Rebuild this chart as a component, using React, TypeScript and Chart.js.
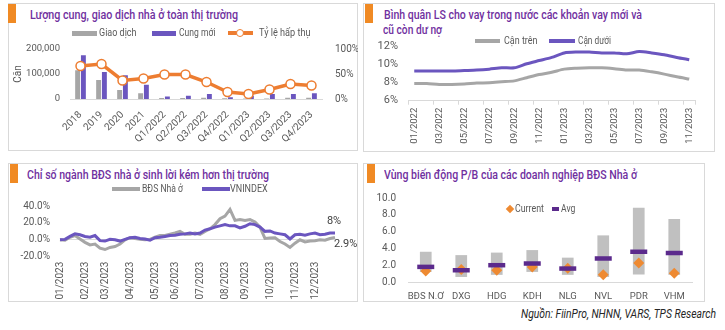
import React, { useEffect, useLayoutEffect, useRef } from "react";
import { Chart, registerables } from "chart.js";

Chart.register(...registerables);

const FONT = "Roboto, 'Noto Sans', sans-serif";
const TITLE = "#7030a0";
const ORANGE = "#ed7d31";
const DIAMOND = "#ee8a32";
const GREY = "#a6a6a6";
const BARGREY = "#c0c0c0";
const PURPLE = "#6b56bf";
const DARKPURPLE = "#5b2a8c";
const TXT = "#595959";
const AXIS = "#d9d9d9";

// ---------- Panel 1: supply / transactions ----------
const supplyPeriods = ["2018", "2019", "2020", "2021", "Q1/2022", "Q2/2022", "Q3/2022", "Q4/2022", "Q1/2023", "Q2/2023", "Q3/2023", "Q4/2023"];
const transactions = [115000, 76000, 36000, 23000, 4000, 4000, 5000, 3000, 2000, 2000, 5000, 5000];
const newSupply = [175000, 108000, 95000, 57000, 10000, 13000, 20000, 7000, 13000, 20000, 20000, 23000];
const absorptionRate = [66, 70, 37, 41, 49, 49, 34, 14, 10, 19, 30, 27];

// ---------- Panel 2: lending rates ----------
const rateMonths = ["01/2022", "02/2022", "03/2022", "04/2022", "05/2022", "06/2022", "07/2022", "08/2022", "09/2022", "10/2022", "11/2022", "12/2022", "01/2023", "02/2023", "03/2023", "04/2023", "05/2023", "06/2023", "07/2023", "08/2023", "09/2023", "10/2023", "11/2023"];
const upperBound = [7.9, 7.9, 7.8, 7.8, 7.85, 7.95, 8.0, 8.1, 8.2, 8.55, 8.9, 9.15, 9.5, 9.6, 9.65, 9.65, 9.55, 9.4, 9.4, 9.2, 8.95, 8.65, 8.4];
const lowerBound = [9.3, 9.3, 9.3, 9.3, 9.35, 9.4, 9.5, 9.65, 9.65, 10.1, 10.45, 10.8, 11.3, 11.4, 11.4, 11.3, 11.3, 11.2, 11.45, 11.3, 11.1, 10.8, 10.55];

// ---------- Panel 3: index performance (weekly) ----------
const perfMonths = ["01/2023", "02/2023", "03/2023", "04/2023", "05/2023", "06/2023", "07/2023", "08/2023", "09/2023", "10/2023", "11/2023", "12/2023"];
const weeksPerMonth = [5, 4, 5, 5, 4, 5, 5, 4, 5, 5, 4, 5];
const residentialIdx = [0, -0.5, 3, 5, 1, -3, -6, -5, -10, -11.5, -9, -8, -5, 0, 2.5, 1.5, 0.5, 0, 0.5, 3, 5, 5, 6.5, 8, 10, 6.5, 6.5, 8, 6.5, 10, 13, 18, 25, 28, 36, 23, 24, 23, 24, 21, 15, 1.5, 2, 2.5, -2, -5, -9, -4, 0, -2.5, -1.5, -1, 0, -0.5, 1.5, 2.9];
const vnIndex = [0, 0.5, 4, 7, 6, 4, 3, 5, -1, -1.5, 0.5, 0, -1.5, 0.5, 2.5, 3, 1.5, 1, -0.5, 2.5, 3, 4, 5, 5.5, 6.5, 7, 8, 7, 8, 11.5, 13, 15, 16.5, 18, 16.5, 16.5, 14, 16, 19, 18, 15, 10, 10.5, 8, 7, 6, 1, 6, 6.5, 5.5, 7, 8, 6, 6.5, 8, 8];

// ---------- Panel 4: P/B ranges ----------
const pbTickers = ["BĐS N.Ơ", "DXG", "HDG", "KDH", "NLG", "NVL", "PDR", "VHM"];
const pbMin = [1.2, 0.6, 0.85, 1.2, 0.85, 0.6, 0.9, 0.85];
const pbMax = [3.6, 3.2, 3.5, 3.8, 2.9, 5.55, 8.85, 7.5];
const pbAvg = [1.8, 1.4, 2.0, 2.2, 1.6, 2.8, 3.6, 3.45];
const pbCurrent = [1.3, 1.5, 1.4, 1.8, 1.65, 0.85, 2.25, 1.05];

const tickFont = (size: number) => ({ family: FONT, size });
const NOGRID = { display: false, drawTicks: false };

function makeSupplyConfig(): any {
  return {
    type: "bar",
    data: {
      labels: supplyPeriods,
      datasets: [
        {
          type: "line",
          label: "Tỷ lệ hấp thụ",
          data: absorptionRate,
          yAxisID: "y1",
          borderColor: ORANGE,
          borderWidth: 3.5,
          pointRadius: 4.5,
          pointBackgroundColor: "#ffffff",
          pointBorderColor: ORANGE,
          pointBorderWidth: 1.5,
          tension: 0,
          order: 0,
        },
        { label: "Giao dịch", data: transactions, backgroundColor: GREY, yAxisID: "y", order: 1, categoryPercentage: 0.55, barPercentage: 0.85 },
        { label: "Cung mới", data: newSupply, backgroundColor: PURPLE, yAxisID: "y", order: 1, categoryPercentage: 0.55, barPercentage: 0.85 },
      ],
    },
    options: {
      animation: false,
      responsive: false,
      layout: { padding: { top: 8, left: 0, right: 0, bottom: 0 } },
      plugins: { legend: { display: false }, tooltip: { enabled: false } },
      scales: {
        x: {
          grid: NOGRID,
          border: { color: AXIS },
          ticks: { minRotation: 45, maxRotation: 45, autoSkip: false, font: tickFont(10), color: TXT, padding: 10 },
          afterFit: (s: any) => { s.height = 51; },
        },
        y: {
          position: "left",
          min: 0,
          max: 200000,
          grid: NOGRID,
          border: { display: false },
          ticks: { stepSize: 50000, padding: 10, font: tickFont(9.5), color: TXT, callback: (v: number) => v.toLocaleString("en-US") },
          title: { display: true, text: "Căn", font: tickFont(10), color: TXT, padding: { top: 4, bottom: 0 } },
          afterFit: (s: any) => { s.width = 62; },
        },
        y1: {
          position: "right",
          min: 0,
          max: 100,
          grid: NOGRID,
          border: { display: false },
          ticks: { stepSize: 50, padding: 13, font: tickFont(10), color: TXT, callback: (v: number) => v + "%" },
          afterFit: (s: any) => { s.width = 36; },
        },
      },
    },
  };
}

function makeRateConfig(): any {
  return {
    type: "line",
    data: {
      labels: rateMonths,
      datasets: [
        { label: "Cận trên", data: upperBound, borderColor: GREY, borderWidth: 3, pointRadius: 0, tension: 0.25 },
        { label: "Cận dưới", data: lowerBound, borderColor: PURPLE, borderWidth: 3, pointRadius: 0, tension: 0.25 },
      ],
    },
    options: {
      animation: false,
      responsive: false,
      layout: { padding: { top: 15, right: 19.5, left: 0, bottom: 0 } },
      plugins: { legend: { display: false }, tooltip: { enabled: false } },
      scales: {
        x: {
          offset: true,
          grid: {
            offset: true,
            drawOnChartArea: false,
            drawTicks: true,
            tickLength: 4,
            tickColor: (ctx: any) => (ctx.index === undefined || ctx.index % 2 === 0 ? AXIS : "rgba(0,0,0,0)"),
          },
          border: { color: AXIS },
          ticks: {
            autoSkip: false,
            minRotation: 90,
            maxRotation: 90,
            padding: 3,
            font: tickFont(9.5),
            color: TXT,
            callback: (_v: any, i: number) => (i % 2 === 0 ? rateMonths[i] : ""),
          },
          afterFit: (s: any) => { s.height = 51.3; },
        },
        y: {
          min: 6,
          max: 12,
          grid: NOGRID,
          border: { display: false },
          ticks: { stepSize: 2, padding: 10, font: tickFont(11), color: TXT, callback: (v: number) => v + "%" },
          afterFit: (s: any) => { s.width = 45; },
        },
      },
    },
  };
}

const endLabelPlugin = {
  id: "endLabels",
  afterDatasetsDraw(chart: any) {
    const ctx = chart.ctx;
    chart.data.datasets.forEach((ds: any, i: number) => {
      const meta = chart.getDatasetMeta(i);
      const pts = meta.data;
      if (!pts.length || !ds.endLabel) return;
      const last = pts[pts.length - 1];
      const value = ds.data[ds.data.length - 1];
      ctx.save();
      ctx.font = `11px ${FONT}`;
      ctx.fillStyle = "#404040";
      ctx.textAlign = ds.endLabel.align;
      ctx.textBaseline = "middle";
      ctx.fillText(`${value}%`, last.x + ds.endLabel.dx, last.y + ds.endLabel.dy);
      ctx.restore();
    });
  },
};

function makePerfConfig(): any {
  const labels: string[] = [];
  perfMonths.forEach((m, i) => {
    for (let w = 0; w < weeksPerMonth[i]; w++) labels.push(w === 0 ? m : `${m}#${w + 1}`);
  });
  return {
    type: "line",
    data: {
      labels,
      datasets: [
        { label: "BĐS Nhà ở", data: residentialIdx, borderColor: GREY, borderWidth: 3, pointRadius: 0, tension: 0, order: 1, endLabel: { align: "left", dx: -1, dy: 7 } },
        { label: "VNINDEX", data: vnIndex, borderColor: PURPLE, borderWidth: 3, pointRadius: 0, tension: 0, order: 0, endLabel: { align: "center", dx: -1, dy: -11.5 } },
      ],
    },
    plugins: [endLabelPlugin],
    options: {
      animation: false,
      responsive: false,
      layout: { padding: { top: 6, right: 23, left: 0, bottom: 0 } },
      plugins: { legend: { display: false }, tooltip: { enabled: false } },
      scales: {
        x: {
          grid: NOGRID,
          border: { display: false },
          ticks: {
            autoSkip: false,
            minRotation: 90,
            maxRotation: 90,
            padding: 5,
            font: tickFont(10),
            color: TXT,
            callback: (_v: any, i: number) => (labels[i].includes("#") ? "" : labels[i]),
          },
          afterFit: (s: any) => { s.height = 46.3; },
        },
        y: {
          min: -20,
          max: 40,
          grid: { drawTicks: false, color: (ctx: any) => (ctx.tick && ctx.tick.value === 0 ? AXIS : "rgba(0,0,0,0)") },
          border: { display: false },
          ticks: { stepSize: 20, padding: 10, font: tickFont(10), color: TXT, callback: (v: number) => v.toFixed(1) + "%" },
          afterFit: (s: any) => { s.width = 52; },
        },
      },
    },
  };
}

function makePbConfig(): any {
  return {
    type: "bar",
    data: {
      labels: pbTickers,
      datasets: [
        { type: "line", label: "Avg", data: pbAvg, showLine: false, pointStyle: "line", pointRadius: 8.5, pointBorderWidth: 4.5, borderColor: DARKPURPLE, pointBorderColor: DARKPURPLE, order: 0 },
        { type: "line", label: "Current", data: pbCurrent, showLine: false, pointStyle: "rectRot", pointRadius: 5.5, pointBorderWidth: 0, pointBackgroundColor: DIAMOND, pointBorderColor: DIAMOND, order: 1 },
        { label: "Range", data: pbMin.map((lo, i) => [lo, pbMax[i]]), backgroundColor: BARGREY, categoryPercentage: 1, barPercentage: 0.33, order: 2 },
      ],
    },
    options: {
      animation: false,
      responsive: false,
      layout: { padding: { top: 8, right: 7, left: 0, bottom: 0 } },
      plugins: { legend: { display: false }, tooltip: { enabled: false } },
      scales: {
        x: {
          grid: NOGRID,
          border: { color: AXIS },
          ticks: { padding: 9, font: tickFont(9.5), color: TXT, autoSkip: false, maxRotation: 0 },
          afterFit: (s: any) => { s.height = 22; },
        },
        y: {
          min: 0,
          max: 10,
          grid: NOGRID,
          border: { display: false },
          ticks: { stepSize: 2, padding: 12, font: tickFont(10), color: TXT, callback: (v: number) => v.toFixed(1) },
          afterFit: (s: any) => { s.width = 45; },
        },
      },
    },
  };
}

function ChartBox({ make, left, top, width, height }: { make: () => any; left: number; top: number; width: number; height: number }) {
  const ref = useRef<HTMLCanvasElement>(null);
  useEffect(() => {
    const chart = new Chart(ref.current as HTMLCanvasElement, make());
    return () => chart.destroy();
  }, []);
  return <canvas ref={ref} width={width} height={height} style={{ position: "absolute", left, top, width, height }} />;
}

// Text squeezed horizontally to the width it occupies in the reference (narrow original typeface)
function FitText({ left, top, width, text, size, color, italic, weight }: { left: number; top: number; width: number; text: string; size: number; color: string; italic?: boolean; weight?: number }) {
  const ref = useRef<HTMLSpanElement>(null);
  useLayoutEffect(() => {
    const el = ref.current;
    if (!el) return;
    el.style.transform = "none";
    const w = el.getBoundingClientRect().width;
    if (w > 0) el.style.transform = `scaleX(${width / w})`;
  }, []);
  return (
    <span
      ref={ref}
      style={{
        position: "absolute",
        left,
        top,
        display: "inline-block",
        transformOrigin: "left center",
        whiteSpace: "nowrap",
        fontFamily: FONT,
        fontSize: size,
        lineHeight: `${Math.round(size * 1.25)}px`,
        color,
        fontStyle: italic ? "italic" : "normal",
        fontWeight: weight || 400,
      }}
    >
      {text}
    </span>
  );
}

type Item = { kind: "box" | "line" | "lineDot" | "diamond" | "dash"; x: number; w: number; color: string; label: string; textX: number; textW: number };

function Legend({ y, items }: { y: number; items: Item[] }) {
  return (
    <>
      {items.map((it) => {
        let sw: React.ReactNode = null;
        if (it.kind === "box") sw = <div style={{ position: "absolute", left: it.x, top: y - 2.5, width: it.w, height: 5, background: it.color }} />;
        if (it.kind === "line" || it.kind === "dash") sw = <div style={{ position: "absolute", left: it.x, top: y - 1.75, width: it.w, height: 3.5, background: it.color }} />;
        if (it.kind === "lineDot")
          sw = (
            <>
              <div style={{ position: "absolute", left: it.x, top: y - 1.75, width: it.w, height: 3.5, background: it.color }} />
              <div style={{ position: "absolute", left: it.x + it.w / 2 - 4.5, top: y - 4.5, width: 6, height: 6, borderRadius: "50%", border: `1.5px solid ${it.color}`, background: "#fff" }} />
            </>
          );
        if (it.kind === "diamond")
          sw = <div style={{ position: "absolute", left: it.x - 3, top: y - 3, width: 6, height: 6, background: it.color, transform: "rotate(45deg)" }} />;
        return (
          <React.Fragment key={it.label}>
            {sw}
            <FitText left={it.textX} top={y - 7} width={it.textW} text={it.label} size={11} color={TXT} />
          </React.Fragment>
        );
      })}
    </>
  );
}

function Panel({ left, top, width, height, accentLeft }: any) {
  return (
    <>
      <div style={{ position: "absolute", left, top, width, height, border: `1px solid ${AXIS}`, boxSizing: "border-box", background: "#fff" }} />
      <div style={{ position: "absolute", left: accentLeft, top: top + 1, width: 8, height: 19, background: "#f08a24" }} />
    </>
  );
}

export default function App() {
  return (
    <div style={{ position: "absolute", left: 0, top: 0, width: 725, height: 330, background: "#fff", overflow: "hidden", fontFamily: FONT }}>
      <Panel left={8} top={3} width={350} height={148} accentLeft={8} />
      <Panel left={363} top={3} width={352} height={149} accentLeft={365} />
      <Panel left={8} top={163} width={350} height={139} accentLeft={10} />
      <Panel left={363} top={163} width={342} height={139} accentLeft={367} />

      <FitText left={30} top={7} width={208} text="Lượng cung, giao dịch nhà ở toàn thị trường" size={12.5} color={TITLE} weight={500} />
      <FitText left={384} top={7} width={258} text="Bình quân LS cho vay trong nước các khoản vay mới và" size={12.5} color={TITLE} weight={500} />
      <FitText left={383} top={22} width={59} text="cũ còn dư nợ" size={12.5} color={TITLE} weight={500} />
      <FitText left={27} top={167} width={242} text="Chỉ số ngành BĐS nhà ở sinh lời kém hơn thị trường" size={12.5} color={TITLE} weight={500} />
      <FitText left={384} top={167} width={253} text="Vùng biến động P/B của các doanh nghiệp BĐS Nhà ở" size={12.5} color={TITLE} weight={500} />

      <ChartBox make={makeSupplyConfig} left={8} top={30} width={350} height={120} />
      <ChartBox make={makeRateConfig} left={363} top={30} width={352} height={122} />
      <ChartBox make={makePerfConfig} left={8} top={190} width={350} height={113} />
      <ChartBox make={makePbConfig} left={363} top={180} width={342} height={124} />

      <Legend
        y={33}
        items={[
          { kind: "box", x: 72, w: 25, color: GREY, label: "Giao dịch", textX: 98.5, textW: 37.5 },
          { kind: "box", x: 152, w: 24, color: PURPLE, label: "Cung mới", textX: 178.5, textW: 36.5 },
          { kind: "lineDot", x: 228, w: 25, color: ORANGE, label: "Tỷ lệ hấp thụ", textX: 258.5, textW: 51.5 },
        ]}
      />
      <Legend
        y={41}
        items={[
          { kind: "line", x: 475, w: 25, color: GREY, label: "Cận trên", textX: 503.5, textW: 33.5 },
          { kind: "line", x: 549, w: 26, color: PURPLE, label: "Cận dưới", textX: 578, textW: 33 },
        ]}
      />
      <Legend
        y={189}
        items={[
          { kind: "line", x: 112, w: 28, color: GREY, label: "BĐS Nhà ở", textX: 141.7, textW: 41 },
          { kind: "line", x: 202, w: 28, color: PURPLE, label: "VNINDEX", textX: 230, textW: 37.7 },
        ]}
      />
      <Legend
        y={209}
        items={[
          { kind: "diamond", x: 509.5, w: 6, color: DIAMOND, label: "Current", textX: 514.7, textW: 29 },
          { kind: "dash", x: 552, w: 7, color: DARKPURPLE, label: "Avg", textX: 561, textW: 14.3 },
        ]}
      />

      <FitText left={521} top={307} width={195} text="Nguồn: FiinPro, NHNN, VARS, TPS Research" size={12} color="#262626" italic />
    </div>
  );
}
